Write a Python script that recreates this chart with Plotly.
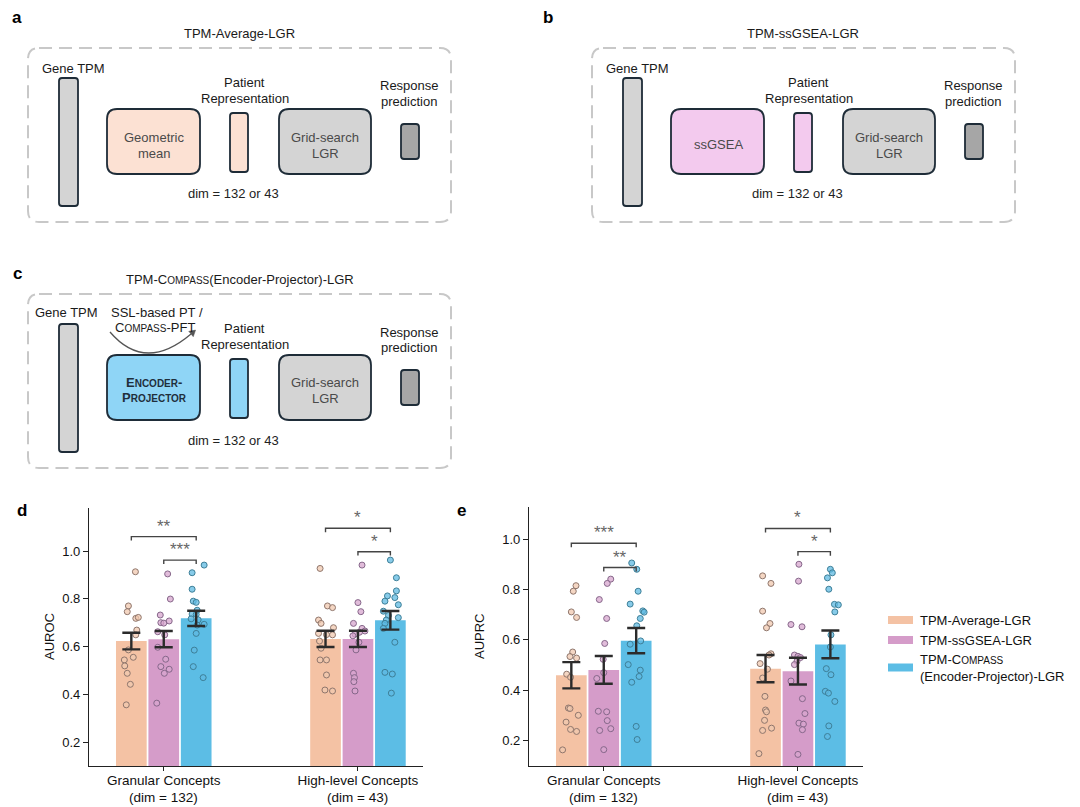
import math
import plotly.graph_objects as go

W, H = 1080, 807
FONT = "Liberation Sans, Arial, Helvetica, sans-serif"

# ---------------- data ----------------
group_names = ["Granular Concepts", "High-level Concepts"]
group_dims = ["(dim = 132)", "(dim = 43)"]
method_names = ["TPM-Average-LGR", "TPM-ssGSEA-LGR", "TPM-Compass(Encoder-Projector)-LGR"]
method_colors = ["#f4c2a4", "#d59cc9", "#5cbde5"]
point_fills = ["rgba(240,200,175,0.75)", "rgba(215,165,205,0.75)", "rgba(95,185,225,0.75)"]
point_edges = ["#8f766c", "#86678a", "#3d7f98"]

# AUROC bar means and SEM (Granular, High-level)
auroc_mean_average = [0.623, 0.632]
auroc_mean_ssgsea = [0.631, 0.632]
auroc_mean_compass = [0.718, 0.710]
auroc_sem_average = [0.035, 0.034]
auroc_sem_ssgsea = [0.034, 0.034]
auroc_sem_compass = [0.032, 0.039]

# AUPRC bar means and SEM
auprc_mean_average = [0.460, 0.486]
auprc_mean_ssgsea = [0.481, 0.476]
auprc_mean_compass = [0.597, 0.582]
auprc_sem_average = [0.052, 0.054]
auprc_sem_ssgsea = [0.055, 0.053]
auprc_sem_compass = [0.050, 0.055]

# AUROC individual points
auroc_gran_average = [0.913, 0.770, 0.746, 0.718, 0.722, 0.669, 0.649, 0.586, 0.555, 0.544, 0.519, 0.488, 0.442, 0.356]
auroc_gran_average_jit = [0.021, -0.015, -0.021, 0.023, 0.036, 0.028, 0.023, -0.015, 0.010, -0.036, -0.034, -0.021, -0.005, -0.026]
auroc_gran_ssgsea = [0.904, 0.799, 0.732, 0.707, 0.700, 0.698, 0.662, 0.649, 0.597, 0.547, 0.516, 0.505, 0.488, 0.363]
auroc_gran_ssgsea_jit = [0.020, 0.034, -0.018, 0.028, -0.015, 0.0, -0.031, 0.005, -0.031, 0.010, -0.015, 0.028, 0.003, -0.036]
auroc_gran_compass = [0.941, 0.909, 0.840, 0.790, 0.785, 0.752, 0.736, 0.734, 0.716, 0.712, 0.693, 0.690, 0.655, 0.585, 0.516, 0.470]
auroc_gran_compass_jit = [0.041, -0.021, -0.021, -0.015, 0.0, 0.005, -0.021, 0.0, -0.026, 0.010, 0.041, 0.005, 0.0, -0.010, -0.015, 0.036]
auroc_high_average = [0.927, 0.770, 0.763, 0.711, 0.697, 0.679, 0.655, 0.650, 0.649, 0.623, 0.593, 0.544, 0.544, 0.481, 0.418, 0.414]
auroc_high_average_jit = [-0.028, 0.010, 0.036, -0.036, -0.023, 0.041, -0.036, 0.005, 0.036, -0.031, -0.023, -0.028, 0.005, 0.005, -0.003, 0.036]
auroc_high_ssgsea = [0.941, 0.784, 0.746, 0.697, 0.676, 0.665, 0.660, 0.652, 0.645, 0.618, 0.586, 0.488, 0.470, 0.453, 0.414]
auroc_high_ssgsea_jit = [0.021, 0.0, 0.015, -0.023, 0.021, 0.036, 0.008, -0.015, -0.026, 0.005, -0.010, -0.023, -0.018, -0.021, -0.015]
auroc_high_compass = [0.962, 0.888, 0.833, 0.812, 0.805, 0.790, 0.775, 0.748, 0.730, 0.721, 0.711, 0.697, 0.676, 0.618, 0.492, 0.485, 0.405]
auroc_high_compass_jit = [0.0, 0.031, 0.031, -0.015, 0.023, -0.028, 0.041, -0.036, -0.010, 0.041, -0.021, -0.028, -0.036, 0.023, -0.028, 0.010, 0.005]

# AUPRC individual points
auprc_gran_average = [0.815, 0.793, 0.711, 0.689, 0.552, 0.534, 0.528, 0.464, 0.452, 0.330, 0.328, 0.301, 0.274, 0.245, 0.237, 0.164]
auprc_gran_average_jit = [0.024, 0.010, 0.0, 0.027, 0.007, -0.007, 0.027, -0.024, -0.004, -0.015, -0.007, 0.036, -0.027, -0.004, 0.027, -0.045]
auprc_gran_ssgsea = [0.841, 0.824, 0.760, 0.685, 0.586, 0.523, 0.470, 0.447, 0.317, 0.315, 0.280, 0.248, 0.241, 0.165]
auprc_gran_ssgsea_jit = [0.036, 0.018, -0.023, 0.015, 0.005, -0.003, 0.0, -0.036, -0.028, 0.015, 0.018, 0.036, -0.021, 0.0]
auprc_gran_compass = [0.905, 0.880, 0.793, 0.742, 0.715, 0.710, 0.685, 0.656, 0.596, 0.583, 0.502, 0.480, 0.455, 0.432, 0.257, 0.205]
auprc_gran_compass_jit = [-0.023, 0.003, 0.010, -0.031, 0.034, 0.041, 0.021, 0.003, 0.023, -0.031, -0.041, 0.021, 0.015, -0.023, 0.0, 0.005]
auprc_high_average = [0.854, 0.824, 0.714, 0.665, 0.648, 0.545, 0.540, 0.506, 0.484, 0.449, 0.376, 0.322, 0.315, 0.281, 0.250, 0.241, 0.149]
auprc_high_average_jit = [-0.015, 0.028, -0.015, 0.023, 0.005, 0.028, 0.018, -0.028, 0.010, -0.015, -0.003, 0.0, 0.005, -0.005, 0.031, -0.015, -0.034]
auprc_high_ssgsea = [0.900, 0.833, 0.661, 0.652, 0.540, 0.535, 0.530, 0.515, 0.502, 0.437, 0.367, 0.308, 0.270, 0.266, 0.244, 0.146]
auprc_high_ssgsea_jit = [0.005, 0.003, -0.036, 0.021, -0.018, 0.0, 0.013, -0.005, -0.018, -0.036, 0.023, 0.036, 0.005, 0.028, 0.023, 0.0]
auprc_high_compass = [0.880, 0.866, 0.846, 0.801, 0.741, 0.739, 0.711, 0.620, 0.572, 0.486, 0.462, 0.396, 0.389, 0.356, 0.259, 0.217]
auprc_high_compass_jit = [0.0, 0.010, -0.015, -0.008, 0.021, 0.041, 0.023, 0.003, 0.0, -0.021, 0.003, -0.026, -0.010, 0.023, -0.008, -0.015]

# significance brackets: group index, method from, method to, height, label
sig_group = [0, 0, 1, 1]
sig_from = [0, 1, 0, 1]
sig_to = [2, 2, 2, 2]
auroc_sig_y = [1.060, 0.962, 1.095, 0.997]
auroc_sig_text = ["**", "***", "*", "*"]
auprc_sig_y = [0.983, 0.887, 1.042, 0.950]
auprc_sig_text = ["***", "**", "*", "*"]

# ---------------- helpers ----------------
def X(px):
    return px / W


def Y(py):
    return 1 - py / H


shapes = []
annotations = []


def rrect(x0, y0, x1, y1, r, fill, line_color, lw, dash=None):
    p = (f"M {X(x0 + r)},{Y(y0)} L {X(x1 - r)},{Y(y0)} Q {X(x1)},{Y(y0)} {X(x1)},{Y(y0 + r)} "
         f"L {X(x1)},{Y(y1 - r)} Q {X(x1)},{Y(y1)} {X(x1 - r)},{Y(y1)} "
         f"L {X(x0 + r)},{Y(y1)} Q {X(x0)},{Y(y1)} {X(x0)},{Y(y1 - r)} "
         f"L {X(x0)},{Y(y0 + r)} Q {X(x0)},{Y(y0)} {X(x0 + r)},{Y(y0)} Z")
    line = dict(color=line_color, width=lw)
    if dash:
        line["dash"] = dash
    shapes.append(dict(type="path", xref="paper", yref="paper", path=p,
                       fillcolor=fill, line=line, layer="below"))


def txt(px, py, s, size=13, color="#1a1a1a", xanchor="center", bold=False, angle=0):
    if bold:
        s = f"<b>{s}</b>"
    annotations.append(dict(x=X(px), y=Y(py), xref="paper", yref="paper", text=s,
                            showarrow=False, xanchor=xanchor, yanchor="middle",
                            textangle=angle,
                            font=dict(size=size, color=color, family=FONT)))


def sc(word, small):
    return f"{word[0]}<span style='font-size:{small}px'>{word[1:].upper()}</span>"


EDGE = "#1e2c38"
GRAY = "#d4d4d4"
DARKGRAY = "#a6a6a6"


def pipeline(dx, dy, mid_fill, mid_lines, mid_color, rep_fill, mid_line_y):
    rrect(28 + dx, 48 + dy, 451 + dx, 222 + dy, 11, "rgba(0,0,0,0)", "#c8c8c8", 2, "13px,7px")
    rrect(59 + dx, 78 + dy, 78 + dx, 206 + dy, 3, GRAY, EDGE, 1.8)
    rrect(107 + dx, 109 + dy, 200 + dx, 174 + dy, 10, mid_fill, EDGE, 1.8)
    rrect(230 + dx, 113 + dy, 248 + dx, 172 + dy, 3, rep_fill, EDGE, 1.8)
    rrect(279 + dx, 109 + dy, 371 + dx, 174 + dy, 10, GRAY, EDGE, 1.8)
    rrect(401 + dx, 124 + dy, 419 + dx, 159 + dy, 3, DARKGRAY, EDGE, 1.8)
    for line, ly in zip(mid_lines, mid_line_y):
        txt(154 + dx, ly + dy, line, 13, mid_color)
    txt(244 + dx, 83 + dy, "Patient")
    txt(245 + dx, 98 + dy, "Representation")
    txt(325 + dx, 137 + dy, "Grid-search", 13, "#4a4a4a")
    txt(325 + dx, 153 + dy, "LGR", 13, "#4a4a4a")
    txt(409 + dx, 86 + dy, "Response")
    txt(409 + dx, 101 + dy, "prediction")
    txt(233 + dx, 194 + dy, "dim = 132 or 43", 13, "#222")


# panel a
txt(17, 18, "a", 17, "#000", bold=True)
txt(239, 33, "TPM-Average-LGR", 13)
txt(73, 68, "Gene TPM", 13)
pipeline(0, 0, "#fce1d3", ["Geometric", "mean"], "#4a4a4a", "#fce1d3", [137, 153])

# panel b
txt(548, 18, "b", 17, "#000", bold=True)
txt(803, 33, "TPM-ssGSEA-LGR", 13)
txt(637, 68, "Gene TPM", 13)
pipeline(564, 0, "#f3caee", ["ssGSEA"], "#4a4a4a", "#f3caee", [144])

# panel c
txt(17, 273, "c", 17, "#000", bold=True)
txt(240, 280, "TPM-" + sc("Compass", 10) + "(Encoder-Projector)-LGR", 13)
txt(66, 313, "Gene TPM", 13)
pipeline(0, 246, "#8fd5f6",
         ["<b>" + sc("Encoder", 10) + "-</b>", "<b>" + sc("Projector", 10) + "</b>"],
         "#1f2f3c", "#8fd5f6", [136, 151])
txt(157, 312, "SSL-based PT /", 13)
txt(155, 327, sc("Compass", 10) + "-PFT", 13)
# curved arrow
sx, sy, cx, cy, ex, ey = 110, 332, 145, 373, 191, 334
shapes.append(dict(type="path", xref="paper", yref="paper",
                   path=f"M {X(sx)},{Y(sy)} Q {X(cx)},{Y(cy)} {X(ex)},{Y(ey)}",
                   line=dict(color="#555555", width=1.3)))
dxv, dyv = ex - cx, ey - cy
nrm = math.hypot(dxv, dyv)
ux, uy = dxv / nrm, dyv / nrm
px_, py_ = -uy, ux
tipx, tipy = ex + ux * 6, ey + uy * 6
b1x, b1y = ex + px_ * 3.5, ey + py_ * 3.5
b2x, b2y = ex - px_ * 3.5, ey - py_ * 3.5
shapes.append(dict(type="path", xref="paper", yref="paper",
                   path=f"M {X(tipx)},{Y(tipy)} L {X(b1x)},{Y(b1y)} L {X(b2x)},{Y(b2y)} Z",
                   fillcolor="#555555", line=dict(color="#555555", width=0.5)))

# ---------------- bar charts ----------------
offsets = [-0.167, 0.0, 0.167]
bar_w = 0.158

fig = go.Figure()

panels = [
    dict(xa="x", ya="y",
         means=[auroc_mean_average, auroc_mean_ssgsea, auroc_mean_compass],
         sems=[auroc_sem_average, auroc_sem_ssgsea, auroc_sem_compass],
         pts=[[auroc_gran_average, auroc_high_average], [auroc_gran_ssgsea, auroc_high_ssgsea],
              [auroc_gran_compass, auroc_high_compass]],
         jit=[[auroc_gran_average_jit, auroc_high_average_jit], [auroc_gran_ssgsea_jit, auroc_high_ssgsea_jit],
              [auroc_gran_compass_jit, auroc_high_compass_jit]],
         sig_y=auroc_sig_y, sig_text=auroc_sig_text),
    dict(xa="x2", ya="y2",
         means=[auprc_mean_average, auprc_mean_ssgsea, auprc_mean_compass],
         sems=[auprc_sem_average, auprc_sem_ssgsea, auprc_sem_compass],
         pts=[[auprc_gran_average, auprc_high_average], [auprc_gran_ssgsea, auprc_high_ssgsea],
              [auprc_gran_compass, auprc_high_compass]],
         jit=[[auprc_gran_average_jit, auprc_high_average_jit], [auprc_gran_ssgsea_jit, auprc_high_ssgsea_jit],
              [auprc_gran_compass_jit, auprc_high_compass_jit]],
         sig_y=auprc_sig_y, sig_text=auprc_sig_text),
]

for pi, P in enumerate(panels):
    for m in range(3):
        fig.add_trace(go.Bar(
            x=[g + offsets[m] for g in range(2)], y=P["means"][m], width=bar_w,
            marker=dict(color=method_colors[m], line=dict(width=0)),
            name=method_names[m], showlegend=False, xaxis=P["xa"], yaxis=P["ya"],
            hoverinfo="y"))
    for m in range(3):
        for g in range(2):
            vals = P["pts"][m][g]
            jit = P["jit"][m][g]
            fig.add_trace(go.Scatter(
                x=[g + offsets[m] + j for j in jit], y=vals, mode="markers",
                marker=dict(size=6, color=point_fills[m], line=dict(color=point_edges[m], width=1)),
                showlegend=False, xaxis=P["xa"], yaxis=P["ya"], hoverinfo="y"))
    for m in range(3):
        fig.add_trace(go.Scatter(
            x=[g + offsets[m] for g in range(2)], y=P["means"][m], mode="markers",
            marker=dict(size=1, opacity=0),
            error_y=dict(type="data", array=P["sems"][m], visible=True, color="#2b2b2b",
                         thickness=2.4, width=9),
            showlegend=False, xaxis=P["xa"], yaxis=P["ya"], hoverinfo="skip"))
    tick = 0.016
    for k in range(4):
        g = sig_group[k]
        x0 = g + offsets[sig_from[k]]
        x1 = g + offsets[sig_to[k]]
        yv = P["sig_y"][k]
        shapes.append(dict(type="path", xref=P["xa"], yref=P["ya"],
                           path=f"M {x0},{yv - tick} L {x0},{yv} L {x1},{yv} L {x1},{yv - tick}",
                           line=dict(color="#444444", width=1.4)))
        annotations.append(dict(x=(x0 + x1) / 2, y=yv, xref=P["xa"], yref=P["ya"],
                                text=P["sig_text"][k], showarrow=False, xanchor="center",
                                yanchor="bottom", yshift=-1,
                                font=dict(size=17, color="#666666", family=FONT)))
    # second line of the category labels
    for g in range(2):
        annotations.append(dict(x=g, y=Y(797), xref=P["xa"], yref="paper",
                                text=group_dims[g], showarrow=False, xanchor="center",
                                yanchor="middle", borderpad=0,
                                font=dict(size=13.5, color="#111", family=FONT)))

# panel labels and axis titles
txt(22, 510, "d", 17, "#000", bold=True)
txt(461, 510, "e", 17, "#000", bold=True)
txt(49, 637, "AUROC", 13, "#111", angle=-90)
txt(479, 636, "AUPRC", 13, "#111", angle=-90)

# legend (manual)
leg_y = [620, 640, 667.5]
leg_text = ["TPM-Average-LGR", "TPM-ssGSEA-LGR",
            "TPM-" + sc("Compass", 10) + "<br>(Encoder-Projector)-LGR"]
for i in range(3):
    shapes.append(dict(type="rect", xref="paper", yref="paper",
                       x0=X(888), x1=X(913), y0=Y(leg_y[i] - 4), y1=Y(leg_y[i] + 4),
                       fillcolor=method_colors[i], line=dict(width=0)))
    annotations.append(dict(x=X(918), y=Y(leg_y[i]), xref="paper", yref="paper",
                            text=leg_text[i], showarrow=False, xanchor="left",
                            yanchor="middle", align="left",
                            font=dict(size=13, color="#111", family=FONT)))

axis_common = dict(showline=True, linecolor="#222222", linewidth=1.2, showgrid=False,
                   zeroline=False, ticks="outside", tickcolor="#222222", tickwidth=1.2,
                   automargin=False, fixedrange=True)

fig.update_layout(
    width=W, height=H, margin=dict(l=0, r=0, t=0, b=0),
    paper_bgcolor="white", plot_bgcolor="rgba(0,0,0,0)",
    template="none", barmode="overlay", showlegend=False,
    font=dict(family=FONT, size=13, color="#111"),
    xaxis=dict(domain=[X(89), X(423)], range=[-0.385, 1.335], tickvals=[0, 1],
               ticktext=group_names, ticklen=4, anchor="y", ticklabelstandoff=-2,
               tickfont=dict(size=13.5, color="#111"), **axis_common),
    yaxis=dict(domain=[Y(766), Y(508)], range=[0.1, 1.18],
               tickvals=[0.2, 0.4, 0.6, 0.8, 1.0], tickformat=".1f", ticklen=5, anchor="x",
               tickfont=dict(size=13, color="#111"), **axis_common),
    xaxis2=dict(domain=[X(529), X(863)], range=[-0.385, 1.335], tickvals=[0, 1],
                ticktext=group_names, ticklen=4, anchor="y2", ticklabelstandoff=-2,
                tickfont=dict(size=13.5, color="#111"), **axis_common),
    yaxis2=dict(domain=[Y(766), Y(507)], range=[0.1, 1.127],
                tickvals=[0.2, 0.4, 0.6, 0.8, 1.0], tickformat=".1f", ticklen=5, anchor="x2",
                tickfont=dict(size=13, color="#111"), **axis_common),
    shapes=shapes, annotations=annotations,
)

fig.write_html("out.html", config={"displayModeBar": False},
               post_script="document.body.style.margin='0';document.body.style.overflow='hidden';")
